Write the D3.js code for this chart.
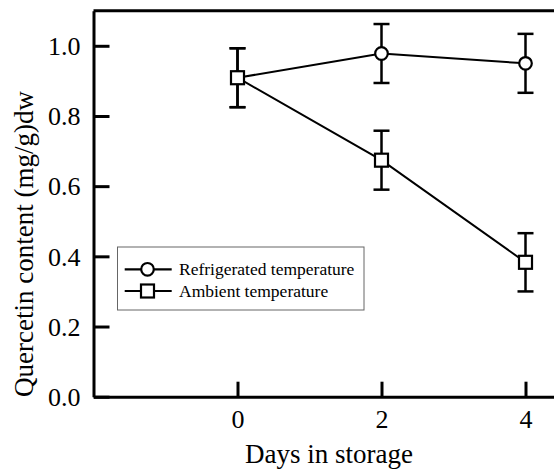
<!DOCTYPE html>
<html>
<head>
<meta charset="utf-8">
<script src="https://cdn.jsdelivr.net/npm/d3@7"></script>
<style>
  body { margin: 0; background: #fff; }
  svg { display: block; }
  svg text { font-family: "Liberation Serif", "Times New Roman", Times, "DejaVu Serif", serif; }
</style>
</head>
<body>
<div id="chart"></div>
<script>
// data
const days = [0, 2, 4];
const refrigerated = [0.909, 0.978, 0.950];
const refrigeratedErr = [0.084, 0.084, 0.084];
const ambient = [0.909, 0.674, 0.383];
const ambientErr = [0.084, 0.084, 0.083];
const xTicks = [0, 2, 4];
const yTicks = [0, 0.2, 0.4, 0.6, 0.8, 1.0];
const seriesNames = ['Refrigerated temperature', 'Ambient temperature'];

const width = 554, height = 469;
const plotLeft = 93.5, plotTop = 10.7, plotBottom = 396.7;
const serif = '"Liberation Serif", "Times New Roman", Times, "DejaVu Serif", serif';

const svg = d3.select('#chart').append('svg')
    .attr('width', width)
    .attr('height', height);

const x = d3.scaleLinear().domain([-2, 4.4]).range([plotLeft, plotLeft + 460.8]);
const y = d3.scaleLinear().domain([0, 1.1]).range([plotBottom, plotTop]);

// axes (ticks point inward)
const xAxis = svg.append('g')
    .attr('transform', `translate(0,${plotBottom})`)
    .call(d3.axisBottom(x).tickValues(xTicks).tickSize(-15).tickSizeOuter(0)
        .tickFormat(d3.format('d')));
const yAxis = svg.append('g')
    .attr('transform', `translate(${plotLeft},0)`)
    .call(d3.axisLeft(y).tickValues(yTicks).tickSize(-16).tickSizeOuter(0)
        .tickFormat(d3.format('.1f')));

[xAxis, yAxis].forEach(g => {
    g.attr('font-family', serif).attr('font-size', 26);
    g.select('.domain').attr('stroke', '#000').attr('stroke-width', 3);
    g.selectAll('.tick line').attr('stroke', '#000').attr('stroke-width', 3);
    g.selectAll('.tick text').attr('fill', '#000');
});
xAxis.selectAll('.tick text').attr('dy', 0).attr('y', 31);
yAxis.selectAll('.tick text').attr('dy', '0.34em').attr('x', -13);

// top frame line
svg.append('line')
    .attr('x1', plotLeft).attr('x2', width)
    .attr('y1', plotTop).attr('y2', plotTop)
    .attr('stroke', '#000').attr('stroke-width', 3);

// axis titles
svg.append('text')
    .attr('x', 329).attr('y', 463)
    .attr('text-anchor', 'middle')
    .attr('font-family', serif)
    .attr('font-size', 27)
    .text('Days in storage');

svg.append('text')
    .attr('transform', 'translate(33,244) rotate(-90)')
    .attr('text-anchor', 'middle')
    .attr('font-family', serif)
    .attr('font-size', 27)
    .text('Quercetin content (mg/g)dw');

// series
const series = [
    { values: refrigerated, err: refrigeratedErr, shape: 'circle' },
    { values: ambient, err: ambientErr, shape: 'square' }
];

const line = d3.line().x((d, i) => x(days[i])).y(d => y(d));

series.forEach(s => {
    const g = svg.append('g');
    g.append('path')
        .attr('d', line(s.values))
        .attr('fill', 'none')
        .attr('stroke', '#000')
        .attr('stroke-width', 2);

    s.values.forEach((v, i) => {
        const cx = x(days[i]);
        const hi = y(v + s.err[i]), lo = y(v - s.err[i]);
        g.append('line')
            .attr('x1', cx).attr('x2', cx).attr('y1', hi).attr('y2', lo)
            .attr('stroke', '#000').attr('stroke-width', 2.5);
        [hi, lo].forEach(yy => {
            g.append('line')
                .attr('x1', cx - 8).attr('x2', cx + 8).attr('y1', yy).attr('y2', yy)
                .attr('stroke', '#000').attr('stroke-width', 2.5);
        });
    });
});

function drawMarker(g, shape, cx, cy) {
    if (shape === 'circle') {
        g.append('circle')
            .attr('cx', cx).attr('cy', cy).attr('r', 6.3)
            .attr('fill', '#fff').attr('stroke', '#000').attr('stroke-width', 2.2);
    } else {
        g.append('rect')
            .attr('x', cx - 6.5).attr('y', cy - 6.5)
            .attr('width', 13).attr('height', 13)
            .attr('fill', '#fff').attr('stroke', '#000').attr('stroke-width', 2.2);
    }
}

// markers on top of lines; the square ends up over the circle at day 0
const markers = svg.append('g');
series.forEach(s => {
    s.values.forEach((v, i) => drawMarker(markers, s.shape, x(days[i]), y(v)));
});

// legend
const legend = svg.append('g');
legend.append('rect')
    .attr('x', 117.5).attr('y', 247)
    .attr('width', 246.5).attr('height', 63)
    .attr('fill', '#fff').attr('stroke', '#666').attr('stroke-width', 1);

seriesNames.forEach((name, i) => {
    const ly = 269.3 + i * 21.7;
    legend.append('line')
        .attr('x1', 124.7).attr('x2', 171.7).attr('y1', ly).attr('y2', ly)
        .attr('stroke', '#000').attr('stroke-width', 2.2);
    drawMarker(legend, series[i].shape, 147.5, ly);
    legend.append('text')
        .attr('x', 179).attr('y', ly + 5.5)
        .attr('font-family', serif)
        .attr('font-size', 17.5)
        .text(name);
});
</script>
</body>
</html>
